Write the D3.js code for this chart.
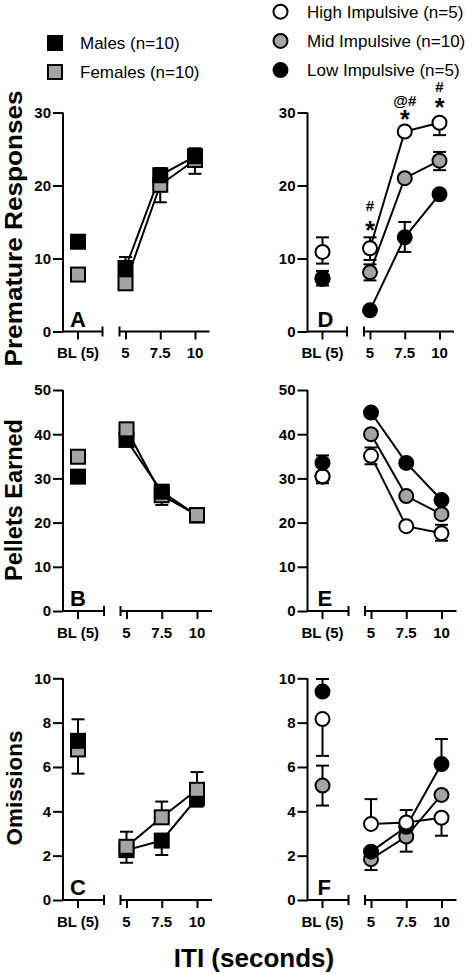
<!DOCTYPE html>
<html><head><meta charset="utf-8">
<script src="https://cdn.jsdelivr.net/npm/d3@7"></script>
<style>
body{margin:0;background:#fff}
svg{display:block}
text{font-family:"Liberation Sans", Arial, Helvetica, sans-serif}
</style>
</head><body>
<svg id="chart" width="474" height="975"></svg>
<script>
// ---------- DATA ----------
const xLabels = ["BL (5)", "5", "7.5", "10"];
const itiSeconds = [5, 7.5, 10];
const sexNames = ["Males (n=10)", "Females (n=10)"];
const impNames = ["High Impulsive (n=5)", "Mid Impulsive (n=10)", "Low Impulsive (n=5)"];
const yTitles = ["Premature Responses", "Pellets Earned", "Omissions"];
const xTitle = "ITI (seconds)";
const yMaxByRow = [30, 50, 10];
const yTicksByRow = [[0, 10, 20, 30], [0, 10, 20, 30, 40, 50], [0, 2, 4, 6, 8, 10]];
const panelLetters = [["A", "B", "C"], ["D", "E", "F"]];

// Panel A: premature responses by sex  (values at BL, 5, 7.5, 10; error bars as [low, high] ends)
const premMale = [12.3, 8.7, 21.4, 24.0];
const premMaleErr = [null, [8.7, 10.2], [21.4, 22.4], [24.0, 25.1]];
const premFemale = [7.8, 6.6, 20.1, 23.5];
const premFemaleErr = [null, null, [17.7, 20.1], [21.6, 23.5]];

// Panel B: pellets earned by sex
const pelMale = [30.4, 38.7, 27.0, 21.6];
const pelMaleErr = [null, null, null, null];
const pelFemale = [34.9, 41.1, 26.2, 21.7];
const pelFemaleErr = [null, null, [24.0, 26.2], null];

// Panel C: omissions by sex
const omiMale = [7.18, 2.25, 2.68, 4.59];
const omiMaleErr = [null, [1.68, 2.25], [2.03, 2.68], [4.21, 4.59]];
const omiFemale = [6.79, 2.4, 3.73, 4.97];
const omiFemaleErr = [[5.7, 8.15], [2.4, 3.08], [3.73, 4.44], [4.97, 5.77]];

// Panel D: premature responses by impulsivity
const premHigh = [10.9, 11.4, 27.4, 28.6];
const premHighErr = [[9.3, 12.9], [9.8, 12.9], null, [26.9, 28.6]];
const premMid = [7.2, 8.1, 21.0, 23.4];
const premMidErr = [null, [7.0, 9.2], null, [22.1, 24.6]];
const premLow = [7.3, 2.9, 12.9, 18.8];
const premLowErr = [[6.3, 8.3], null, [10.9, 15.0], null];

// Panel E: pellets earned by impulsivity
const pelHigh = [30.5, 35.1, 19.2, 17.6];
const pelHighErr = [[28.9, 30.5], [33.2, 37.0], null, [15.9, 19.5]];
const pelMid = [30.4, 40.0, 26.0, 21.9];
const pelMidErr = [null, null, null, null];
const pelLow = [33.5, 44.9, 33.5, 25.1];
const pelLowErr = [[33.5, 35.2], null, null, null];

// Panel F: omissions by impulsivity
const omiHigh = [8.16, 3.43, 3.5, 3.71];
const omiHighErr = [[6.5, 8.16], [3.43, 4.55], [3.5, 4.06], [2.9, 3.71]];
const omiMid = [5.16, 1.84, 2.86, 4.74];
const omiMidErr = [[4.26, 6.06], [1.35, 1.84], [2.18, 2.86], null];
const omiLow = [9.4, 2.18, 3.3, 6.13];
const omiLowErr = [[9.4, 9.97], null, null, [6.13, 7.26]];

// Significance marks on panel D (at ITI 5, 7.5, 10)
const sigX = [5, 7.5, 10];
const sigStarY = [14.5, 29.7, 31.3];
const sigTopLabel = ["#", "@#", "#"];
const sigTopY = [17.3, 31.7, 33.5];

// ---------- STYLE ----------
const BLACK = "#000", GRAY = "#a4a4a4", WHITE = "#fff";
const sexStyle = [{fill: BLACK, shape: "square"}, {fill: GRAY, shape: "square"}];
const impStyle = [{fill: WHITE, shape: "circle"}, {fill: GRAY, shape: "circle"}, {fill: BLACK, shape: "circle"}];

const svg = d3.select("#chart");

const colAxisX = [63, 307.5];
const rowY = [[331.5, 112.5], [611, 390], [900, 678.3]];
const rowOffsets = [
  {bl: 15, lend: 39.5, rstart: 56.5, t5: 62.5, t10: 132, rend: 146.5},
  {bl: 15, lend: 41, rstart: 57.5, t5: 63.5, t10: 134, rend: 149},
  {bl: 15, lend: 41, rstart: 57.5, t5: 63.5, t10: 134, rend: 149}
];

const panels = [
  {col: 0, row: 0, series: [[premMale, premMaleErr], [premFemale, premFemaleErr]], style: sexStyle},
  {col: 0, row: 1, series: [[pelMale, pelMaleErr], [pelFemale, pelFemaleErr]], style: sexStyle},
  {col: 0, row: 2, series: [[omiMale, omiMaleErr], [omiFemale, omiFemaleErr]], style: sexStyle},
  {col: 1, row: 0, series: [[premHigh, premHighErr], [premMid, premMidErr], [premLow, premLowErr]], style: impStyle, sig: true},
  {col: 1, row: 1, series: [[pelHigh, pelHighErr], [pelMid, pelMidErr], [pelLow, pelLowErr]], style: impStyle},
  {col: 1, row: 2, series: [[omiHigh, omiHighErr], [omiMid, omiMidErr], [omiLow, omiLowErr]], style: impStyle}
];

const MS = 14; // marker size
function drawMarker(g, shape, cx, cy, fill) {
  if (shape === "square") {
    g.append("rect").attr("x", cx - MS / 2).attr("y", cy - MS / 2).attr("width", MS).attr("height", MS)
      .attr("fill", fill).attr("stroke", BLACK).attr("stroke-width", 2);
  } else {
    g.append("circle").attr("cx", cx).attr("cy", cy).attr("r", MS / 2)
      .attr("fill", fill).attr("stroke", BLACK).attr("stroke-width", 2);
  }
}

panels.forEach(p => {
  const ax = colAxisX[p.col];
  const [y0, yTop] = rowY[p.row];
  const off = rowOffsets[p.row];
  const y = d3.scaleLinear().domain([0, yMaxByRow[p.row]]).range([y0, yTop]);
  const xIti = d3.scaleLinear().domain([5, 10]).range([ax + off.t5, ax + off.t10]);
  const blX = ax + off.bl;
  const xPos = i => i === 0 ? blX : xIti(itiSeconds[i - 1]);
  const g = svg.append("g");

  // Y axis
  const yAxis = g.append("g").attr("transform", `translate(${ax},0)`)
    .call(d3.axisLeft(y).tickValues(yTicksByRow[p.row]).tickSize(10).tickSizeOuter(0).tickPadding(2));
  yAxis.select(".domain").attr("stroke-width", 2).attr("d", `M0,${y0 + 1}V${yTop}`);
  yAxis.selectAll(".tick line").attr("stroke-width", 2);
  yAxis.selectAll(".tick text").attr("font-size", 15).attr("font-weight", "bold").attr("fill", BLACK)
    .attr("font-family", "'Liberation Sans', Arial, sans-serif");

  // X axis: baseline segment
  const xl = g.append("g").attr("stroke", BLACK).attr("stroke-width", 2);
  xl.append("line").attr("x1", ax).attr("x2", ax + off.lend).attr("y1", y0).attr("y2", y0);
  xl.append("line").attr("x1", ax + off.lend).attr("x2", ax + off.lend).attr("y1", y0 - 5).attr("y2", y0 + 5);
  xl.append("line").attr("x1", blX).attr("x2", blX).attr("y1", y0).attr("y2", y0 + 8);
  // X axis: ITI segment via d3 axis
  const xAxis = g.append("g").attr("transform", `translate(0,${y0})`)
    .call(d3.axisBottom(xIti).tickValues(itiSeconds).tickSize(8).tickSizeOuter(0).tickFormat(() => ""));
  xAxis.select(".domain").attr("stroke-width", 2).attr("d", `M${ax + off.rstart},0H${ax + off.rend}`);
  xAxis.selectAll(".tick line").attr("stroke-width", 2);
  xl.append("line").attr("x1", ax + off.rstart).attr("x2", ax + off.rstart).attr("y1", y0 - 5).attr("y2", y0 + 5);
  // X tick labels
  xLabels.forEach((lab, i) => {
    g.append("text").attr("x", xPos(i)).attr("y", y0 + 26.5).attr("text-anchor", "middle")
      .attr("font-size", 15).attr("font-weight", "bold").text(lab);
  });

  // Panel letter
  g.append("text").attr("x", ax + (p.col === 0 ? 7 : 10)).attr("y", y0 - 5)
    .attr("font-size", 22).attr("font-weight", "bold").text(panelLetters[p.col][p.row]);

  // Error bars
  const eb = g.append("g").attr("stroke", BLACK).attr("stroke-width", 2);
  p.series.forEach(([vals, errs]) => {
    errs.forEach((e, i) => {
      if (!e) return;
      const cx = xPos(i);
      eb.append("line").attr("x1", cx).attr("x2", cx).attr("y1", y(e[0])).attr("y2", y(e[1]));
      e.forEach(v => {
        if (v !== vals[i]) eb.append("line").attr("x1", cx - 6.5).attr("x2", cx + 6.5).attr("y1", y(v)).attr("y2", y(v));
      });
    });
  });

  // Lines (ITI points only)
  const line = d3.line().x((d, i) => xIti(itiSeconds[i])).y(d => y(d));
  p.series.forEach(([vals]) => {
    g.append("path").attr("d", line(vals.slice(1))).attr("fill", "none")
      .attr("stroke", BLACK).attr("stroke-width", 2);
  });

  // Markers: in each column, higher values drawn on top
  const mg = g.append("g");
  xLabels.forEach((_, i) => {
    const pts = p.series.map(([vals], s) => ({v: vals[i], s}));
    pts.sort((a, b) => a.v - b.v);
    pts.forEach(pt => drawMarker(mg, p.style[pt.s].shape, xPos(i), y(pt.v), p.style[pt.s].fill));
  });

  // Significance marks
  if (p.sig) {
    sigX.forEach((xv, k) => {
      g.append("text").attr("x", xIti(xv)).attr("y", y(sigStarY[k]) + 13).attr("text-anchor", "middle")
        .attr("font-size", 25).attr("font-weight", "bold").text("*");
      g.append("text").attr("x", xIti(xv)).attr("y", y(sigTopY[k]) + 5.5).attr("text-anchor", "middle")
        .attr("font-size", 15).attr("font-weight", "bold").text(sigTopLabel[k]);
    });
  }
});

// Y titles
const yTitleCenters = [228.5, 500, 788];
const yTitleSizes = [24.5, 23.5, 22.5];
const yTitleLengths = [276, null, null];
yTitles.forEach((t, r) => {
  const tt = svg.append("text").attr("transform", `translate(22,${yTitleCenters[r]}) rotate(-90)`)
    .attr("text-anchor", "middle").attr("font-size", yTitleSizes[r]).attr("font-weight", "bold").text(t);
  if (yTitleLengths[r]) tt.attr("textLength", yTitleLengths[r]).attr("lengthAdjust", "spacingAndGlyphs");
});

// X title
svg.append("text").attr("x", 254).attr("y", 967).attr("text-anchor", "middle")
  .attr("font-size", 26).attr("font-weight", "bold").text(xTitle);

// Legends
const legSex = svg.append("g");
sexNames.forEach((n, i) => {
  const cy = 43 + i * 29;
  drawMarker(legSex, "square", 55, cy, sexStyle[i].fill);
  legSex.append("text").attr("x", 80).attr("y", cy + 6).attr("font-size", 17).text(n);
});
const legImp = svg.append("g");
impNames.forEach((n, i) => {
  const cy = 11.7 + i * 29.2;
  drawMarker(legImp, "circle", 280.5, cy, impStyle[i].fill);
  legImp.append("text").attr("x", 307).attr("y", cy + 6).attr("font-size", 17).text(n);
});
</script>
</body></html>
